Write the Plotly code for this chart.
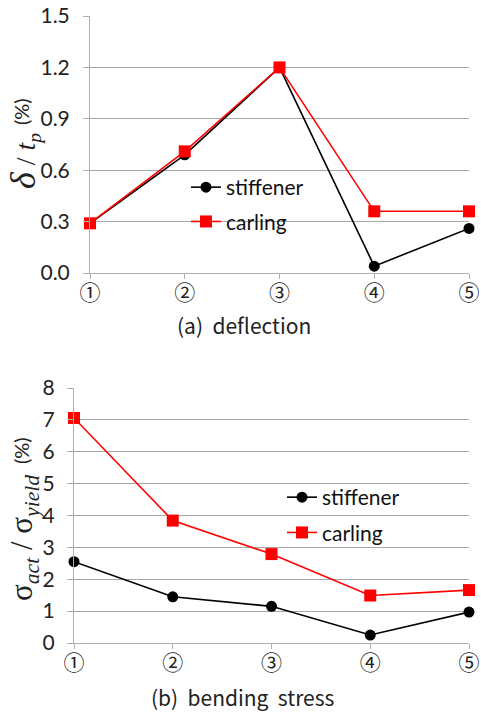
import plotly.graph_objects as go

# Measurement points and results
points = [1, 2, 3, 4, 5]
point_labels = ["①", "②", "③", "④", "⑤"]

# (a) deflection ratio δ/t_p (%)
defl_stiffener = [0.29, 0.69, 1.20, 0.04, 0.26]
defl_carling = [0.29, 0.71, 1.20, 0.36, 0.36]
defl_ticks = [0.0, 0.3, 0.6, 0.9, 1.2, 1.5]

# (b) bending stress ratio σ_act/σ_yield (%)
stress_stiffener = [2.55, 1.45, 1.15, 0.25, 0.97]
stress_carling = [7.06, 3.84, 2.79, 1.49, 1.66]
stress_ticks = [0, 1, 2, 3, 4, 5, 6, 7, 8]

W, H = 481, 713
GRID = "#a6a6a6"
AXIS = "#b0b0b0"
TICKFONT = "Lato"
CJK = "Noto Sans CJK KR"
SERIF = "Liberation Serif"


def px_x(p):
    return p / W


def px_y(p):
    return 1 - p / H


fig = go.Figure()

stiff_style = dict(mode="lines+markers", line=dict(color="black", width=1.6),
                   marker=dict(symbol="circle", size=11, color="black"),
                   cliponaxis=False)
carl_style = dict(mode="lines+markers", line=dict(color="#ff0000", width=1.6),
                  marker=dict(symbol="square", size=12, color="#ff0000"),
                  cliponaxis=False)

# top panel: deflection
fig.add_trace(go.Scatter(x=points, y=defl_stiffener, name="stiffener",
                         xaxis="x", yaxis="y", legend="legend",
                         legendgroup="a1", **stiff_style))
fig.add_trace(go.Scatter(x=points, y=defl_carling, name="carling",
                         xaxis="x", yaxis="y", legend="legend",
                         legendgroup="a2", **carl_style))

# bottom panel: bending stress
fig.add_trace(go.Scatter(x=points, y=stress_stiffener, name="stiffener",
                         xaxis="x2", yaxis="y2", legend="legend2",
                         legendgroup="b1", **stiff_style))
fig.add_trace(go.Scatter(x=points, y=stress_carling, name="carling",
                         xaxis="x2", yaxis="y2", legend="legend2",
                         legendgroup="b2", **carl_style))

xcommon = dict(range=[1, 5], tickvals=points, ticktext=point_labels,
               showgrid=False, zeroline=False, showline=True, linecolor=AXIS,
               linewidth=1, ticks="outside", ticklen=5, tickcolor=AXIS,
               tickfont=dict(family=CJK, size=21, color="#222"),
               ticklabelstandoff=-4, fixedrange=True, automargin=False)
ycommon = dict(showgrid=True, gridcolor=GRID, gridwidth=1, zeroline=False,
               showline=True, linecolor=AXIS, linewidth=1, ticks="outside",
               ticklen=6, tickcolor=AXIS, fixedrange=True, automargin=False)


def rot_label(text, x, y, family, size):
    return dict(text=text, x=px_x(x), y=px_y(y), xref="paper", yref="paper",
                textangle=-90, showarrow=False, xanchor="center",
                yanchor="middle", font=dict(family=family, size=size, color="#222"))


fig.update_layout(
    width=W, height=H,
    margin=dict(l=0, r=0, t=0, b=0, autoexpand=False),
    paper_bgcolor="white", plot_bgcolor="white",
    showlegend=True,
    xaxis=dict(domain=[px_x(90), px_x(469)], anchor="y", **xcommon),
    yaxis=dict(domain=[px_y(273), px_y(16)], anchor="x", range=[0, 1.5],
               tickvals=defl_ticks, ticktext=[f"{v:.1f}" for v in defl_ticks],
               tickfont=dict(family=TICKFONT, size=21, color="#222"),
               ticklabelstandoff=9, **ycommon),
    xaxis2=dict(domain=[px_x(74), px_x(469)], anchor="y2", **xcommon),
    yaxis2=dict(domain=[px_y(643), px_y(388)], anchor="x2", range=[0, 8],
                tickvals=stress_ticks, ticktext=[str(v) for v in stress_ticks],
                tickfont=dict(family=TICKFONT, size=21, color="#222"),
                ticklabelstandoff=8, **ycommon),
    legend=dict(x=px_x(186), y=px_y(167), xanchor="left", yanchor="top",
                bgcolor="rgba(0,0,0,0)", traceorder="grouped", tracegroupgap=4,
                font=dict(family=TICKFONT, size=21, color="#111")),
    legend2=dict(x=px_x(282), y=px_y(477), xanchor="left", yanchor="top",
                 bgcolor="rgba(0,0,0,0)", traceorder="grouped", tracegroupgap=5,
                 font=dict(family=TICKFONT, size=21, color="#111")),
    annotations=[
        rot_label('<span style="font-size:36px"><i>δ</i></span> / '
                  '<i>t<sub>p</sub></i>', 24, 161, SERIF, 28),
        rot_label("(%)", 21, 112, TICKFONT, 20),
        rot_label("σ<sub><i>act</i></sub> / σ<sub><i>yield</i></sub>",
                  24, 538, SERIF, 31),
        rot_label("(%)", 21, 451, TICKFONT, 20),
        dict(text="(a)  deflection", x=px_x(244), y=px_y(325), xref="paper",
             yref="paper", showarrow=False, xanchor="center", yanchor="middle",
             font=dict(family=CJK, size=21, color="#222")),
        dict(text="(b)  bending  stress", x=px_x(243), y=px_y(697), xref="paper",
             yref="paper", showarrow=False, xanchor="center", yanchor="middle",
             font=dict(family=CJK, size=21, color="#222")),
    ],
)

fig.write_html("out.html",
               post_script="document.body.style.margin='0';")
